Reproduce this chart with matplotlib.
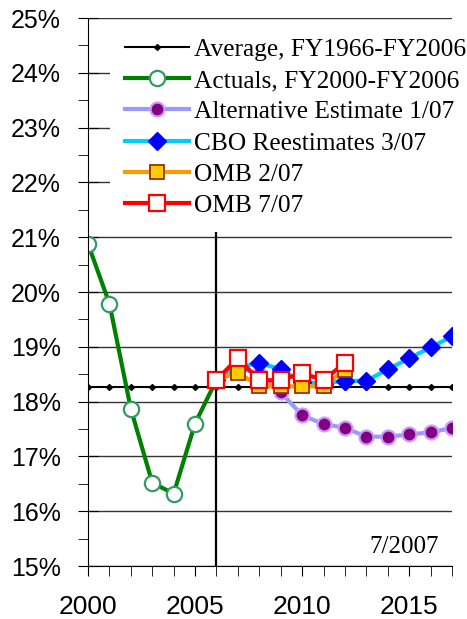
import matplotlib
import matplotlib.pyplot as plt
from matplotlib.ticker import MultipleLocator, FuncFormatter
matplotlib.use('Agg')

years_avg = list(range(2000, 2018))
avg_value = 18.27

years_act = [2000, 2001, 2002, 2003, 2004, 2005, 2006]
actuals = [20.88, 19.79, 17.87, 16.52, 16.32, 17.60, 18.40]

years_alt = list(range(2006, 2018))
alternative = [18.40, 18.62, 18.50, 18.17, 17.75, 17.59, 17.52, 17.36,
               17.36, 17.40, 17.44, 17.52]

years_cbo = list(range(2006, 2018))
cbo = [18.40, 18.62, 18.71, 18.59, 18.35, 18.33, 18.38, 18.38,
       18.59, 18.79, 18.99, 19.19]

years_omb = list(range(2006, 2013))
omb_feb = [18.40, 18.53, 18.28, 18.28, 18.28, 18.28, 18.58]
omb_jul = [18.40, 18.79, 18.39, 18.39, 18.52, 18.39, 18.71]


def main():
    fig = plt.figure(figsize=(4.67, 6.19), dpi=100)
    ax = fig.add_axes([0.1884, 0.0856, 0.7796, 0.8853])

    ax.plot(years_avg, [avg_value] * len(years_avg), color='black', lw=1.5,
            marker='D', ms=3, label='Average, FY1966-FY2006')
    ax.plot(years_act, actuals, color='#008000', lw=3, marker='o', ms=11,
            mfc='white', mec='#339966', mew=1.6,
            label='Actuals, FY2000-FY2006')
    ax.plot(years_alt, alternative, color='#9999FF', lw=3, marker='o', ms=10,
            mfc='#800080', mec='#CC99FF', mew=1.6,
            label='Alternative Estimate 1/07')
    ax.plot(years_cbo, cbo, color='#00CCFF', lw=3, marker='D', ms=9,
            mfc='#0000FF', mec='#0000FF', label='CBO Reestimates 3/07')
    ax.plot(years_omb, omb_feb, color='#FF9900', lw=3, marker='s', ms=10,
            mfc='#FFCC00', mec='#993300', mew=1.3, label='OMB 2/07')
    ax.plot(years_omb, omb_jul, color='#FF0000', lw=3, marker='s', ms=11,
            mfc='white', mec='#FF0000', mew=1.6, label='OMB 7/07')

    ax.axvline(2006, ymax=0.611, color='black', lw=1.6, zorder=1)

    ax.set_xlim(2000, 2017)
    ax.set_ylim(15, 25)
    ax.yaxis.set_major_locator(MultipleLocator(1))
    ax.yaxis.set_minor_locator(MultipleLocator(0.5))
    ax.yaxis.set_major_formatter(FuncFormatter(lambda v, p: '%d%%' % v))
    ax.set_xticks([2000, 2005, 2010, 2015])
    ax.set_xticks(years_avg, minor=True)
    ax.grid(axis='y', which='major', color='#333333', lw=1, zorder=0)
    ax.set_axisbelow(True)

    for s in ['top', 'right']:
        ax.spines[s].set_visible(False)
    ax.tick_params(axis='y', which='major', direction='inout', length=15,
                   labelsize=18, pad=12)
    ax.tick_params(axis='y', which='minor', direction='out', length=7)
    ax.tick_params(axis='x', which='both', direction='out', length=7,
                   labelsize=19, pad=14)
    for lab in ax.get_xticklabels() + ax.get_yticklabels():
        lab.set_family('Liberation Sans')

    leg = ax.legend(loc='upper left', bbox_to_anchor=(0.06, 0.991),
                    frameon=True, fancybox=False, edgecolor='white',
                    framealpha=1, borderpad=0.6, labelspacing=0.33,
                    handlelength=2.5, handletextpad=0.2, borderaxespad=0,
                    prop={'family': 'Liberation Serif', 'size': 18.3})
    leg.get_frame().set_linewidth(0)

    ax.text(0.964, 0.024, '7/2007', transform=ax.transAxes, ha='right',
            va='baseline', family='Liberation Serif', fontsize=18)

    fig.savefig('out.png', dpi=100)


if __name__ == '__main__':
    main()
